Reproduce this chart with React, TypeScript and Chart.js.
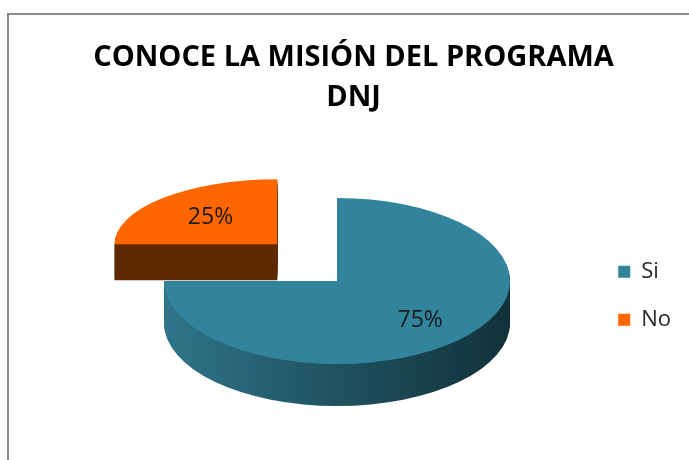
import React, { useEffect, useRef } from "react";
import { Chart, registerables } from "chart.js";

Chart.register(...registerables);

const categories = ["Si", "No"];
const values = [75, 25];
const topColors = ["#31849B", "#FF6600"];
const titleLines = ["CONOCE LA MISIÓN DEL PROGRAMA", "DNJ"];

const W = 689;
const H = 445;
const CX = 328; // projected pie centre (canvas px)
const CY = 266;
const TILT = 0.48; // vertical squash of the pie plane
// per-slice perspective (the farther, exploded slice is drawn smaller, flatter and raised)
const VIEW = [
  { s: 1, tilt: 0.48, depth: 42, lift: 0, label: 0.68 },
  { s: 0.94, tilt: 0.4, depth: 36, lift: -8, label: 0.58 },
];

function arcOffset(arc: any) {
  const off = (arc.options.offset || 0) / 4;
  const half = (arc.startAngle + arc.endAngle) / 2;
  return { ox: Math.cos(half) * off, oy: Math.sin(half) * off, half };
}

function apex(arc: any, i: number) {
  const { ox, oy } = arcOffset(arc);
  const v = VIEW[i];
  return { ax: CX + ox * v.s, ay: CY + oy * TILT * v.s + v.lift };
}

function project(ctx: CanvasRenderingContext2D, arc: any, i: number, dy: number) {
  const { ox, oy } = arcOffset(arc);
  const v = VIEW[i];
  const { ax, ay } = apex(arc, i);
  ctx.translate(ax, ay + dy);
  ctx.scale(v.s, v.tilt * v.s);
  ctx.translate(-(arc.x + ox), -(arc.y + oy));
}

const pie3d = {
  id: "pie3d",
  beforeDatasetsDraw(chart: any) {
    const ctx: CanvasRenderingContext2D = chart.ctx;
    const meta = chart.getDatasetMeta(0);
    if (!meta.data.every((a: any) => isFinite(a.x) && isFinite(a.outerRadius))) return false;
    const order = [1, 0];
    for (const i of order) {
      const arc: any = meta.data[i];
      const { ox, oy } = arcOffset(arc);
      for (let d = VIEW[i].depth; d >= 1; d--) {
        ctx.save();
        project(ctx, arc, i, d);
        let fill: any;
        if (i === 0) {
          const g = ctx.createLinearGradient(arc.x - arc.outerRadius, 0, arc.x + arc.outerRadius, 0);
          g.addColorStop(0, "#2F7589");
          g.addColorStop(0.5, "#1F5260");
          g.addColorStop(1, "#12313A");
          fill = g;
        } else {
          fill = "#612B02";
        }
        ctx.fillStyle = fill;
        ctx.beginPath();
        ctx.moveTo(arc.x + ox, arc.y + oy);
        ctx.arc(arc.x + ox, arc.y + oy, arc.outerRadius, arc.startAngle, arc.endAngle);
        ctx.closePath();
        ctx.fill();
        ctx.restore();
      }
      ctx.save();
      project(ctx, arc, i, 0);
      arc.draw(ctx);
      ctx.restore();
    }
    const total = values.reduce((a, b) => a + b, 0);
    ctx.save();
    ctx.font = "23px 'Open Sans'";
    ctx.fillStyle = "#1a1a1a";
    ctx.textAlign = "center";
    ctx.textBaseline = "middle";
    meta.data.forEach((arc: any, i: number) => {
      const { half } = arcOffset(arc);
      const v = VIEW[i];
      const { ax, ay } = apex(arc, i);
      const r = arc.outerRadius * v.label * v.s;
      const x = ax + Math.cos(half) * r;
      const y = ay + Math.sin(half) * r * v.tilt;
      ctx.fillText(Math.round((values[i] / total) * 100) + "%", x, y);
    });
    ctx.restore();
    return false;
  },
};

export default function App() {
  const ref = useRef<HTMLCanvasElement>(null);
  useEffect(() => {
    if (!ref.current) return;
    const chart = new Chart(ref.current, {
      type: "pie",
      data: {
        labels: categories,
        datasets: [
          {
            data: values,
            backgroundColor: topColors,
            borderWidth: 0,
            offset: [0, 360],
            hoverOffset: 0,
            radius: 173,
            cutout: "0%",
          } as any,
        ],
      },
      options: {
        animation: false,
        responsive: false,
        devicePixelRatio: 1,
        events: [],
        cutout: "0%",
        layout: { padding: { left: 17, right: 17, top: 0, bottom: 0 } },
        plugins: {
          title: {
            display: true,
            text: titleLines,
            color: "#000",
            font: { family: "'Open Sans'", size: 29, weight: "bold", lineHeight: 40 / 29 },
            padding: { top: 23, bottom: 12 },
          },
          legend: {
            position: "right",
            title: { display: true, text: "", padding: { top: 102, bottom: 0 }, font: { size: 12 } },
            labels: {
              boxWidth: 12,
              boxHeight: 12,
              padding: 26,
              color: "#262626",
              font: { family: "'Open Sans'", size: 22 },
            },
          },
          tooltip: { enabled: false },
        },
      } as any,
      plugins: [pie3d],
    });
    return () => chart.destroy();
  }, []);
  return (
    <div style={{ position: "absolute", left: 0, top: 0, width: 689, height: 460, overflow: "hidden", background: "#fff" }}>
      <div
        style={{
          position: "absolute",
          left: 7,
          top: 13,
          borderLeft: "2px solid #8a8a8a",
          borderTop: "2px solid #8a8a8a",
          width: W,
          height: H,
        }}
      >
        <canvas ref={ref} width={W} height={H} style={{ display: "block" }} />
      </div>
    </div>
  );
}
